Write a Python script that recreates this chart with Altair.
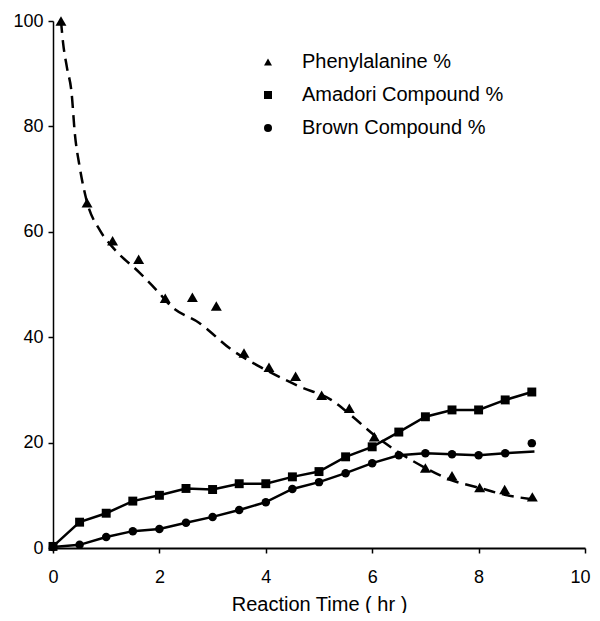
import altair as alt
import pandas as pd

FONT = "Liberation Sans"

series_names = ["Phenylalanine %", "Amadori Compound %", "Brown Compound %"]
series_shapes = ["triangle-up", "square", "circle"]
series_sizes = [120, 80, 72]

# Phenylalanine % (triangles)
phe_t = [0.15, 0.64, 1.12, 1.61, 2.11, 2.62, 3.07, 3.59, 4.06, 4.56, 5.05, 5.57, 6.04, 7.0, 7.5, 8.02, 8.49, 9.01]
phe_v = [100, 65.5, 58.3, 54.8, 47.4, 47.6, 45.9, 37.0, 34.3, 32.6, 29.0, 26.5, 21.1, 15.2, 13.7, 11.5, 11.1, 9.7]

# Phenylalanine fitted (dashed) curve
phe_fit_t = [0.15, 0.19, 0.26, 0.35, 0.41, 0.50, 0.63, 0.88, 1.12, 1.63, 1.94, 2.24, 2.75, 3.36, 4.00, 4.62,
             5.23, 5.60, 6.04, 6.49, 7.00, 7.48, 8.02, 8.49, 8.97]
phe_fit_v = [100, 95.8, 91.3, 86.3, 78.7, 72.4, 66.0, 60.3, 57.1, 52.2, 49.0, 45.7, 42.7, 37.6, 33.8, 30.7,
             28.1, 25.2, 21.4, 18.2, 15.2, 12.9, 11.4, 10.1, 9.3]

# Amadori Compound % (squares)
time_t = [0, 0.5, 1, 1.5, 2, 2.5, 3, 3.5, 4, 4.5, 5, 5.5, 6, 6.5, 7, 7.5, 8, 8.5, 9]
ama_v = [0.3, 4.9, 6.6, 8.9, 10.0, 11.3, 11.1, 12.2, 12.2, 13.5, 14.5, 17.3, 19.2, 22.0, 24.9, 26.2, 26.2, 28.1, 29.6]

# Brown Compound % (circles)
brn_v = [0.2, 0.6, 2.1, 3.2, 3.6, 4.8, 5.9, 7.2, 8.7, 11.2, 12.5, 14.2, 16.1, 17.6, 18.0, 17.8, 17.6, 18.0, 19.9]

# Brown fitted line (ends below the last point)
brn_line_t = [0, 0.5, 1, 1.5, 2, 2.5, 3, 3.5, 4, 4.5, 5, 5.5, 6, 6.5, 7, 7.5, 8, 8.5, 9.05]
brn_line_v = [0.2, 0.6, 2.1, 3.2, 3.6, 4.8, 5.9, 7.2, 8.7, 11.2, 12.5, 14.2, 16.1, 17.6, 18.0, 17.8, 17.6, 18.0, 18.3]

x_ticks = [0, 2, 4, 6, 8, 10]
y_ticks = [0, 20, 40, 60, 80, 100]

series_col = [series_names[0]] * len(phe_t) + [series_names[1]] * len(time_t) + [series_names[2]] * len(time_t)
pts = pd.DataFrame({
    "t": phe_t + time_t + time_t,
    "v": phe_v + ama_v + brn_v,
    "series": series_col,
})
fit_df = pd.DataFrame({"t": phe_fit_t, "v": phe_fit_v})
ama_df = pd.DataFrame({"t": time_t, "v": ama_v})
brn_df = pd.DataFrame({"t": brn_line_t, "v": brn_line_v})

x_scale = alt.Scale(domain=[0, 10], nice=False, zero=False)
y_scale = alt.Scale(domain=[0, 100], nice=False)

x_axis = alt.Axis(
    values=x_ticks, grid=False, domainColor="black", domainWidth=2,
    tickColor="black", tickSize=5, tickWidth=1.5,
    labelFont=FONT, labelFontSize=18, labelColor="black", labelPadding=15,
    labelFlush=True, labelFlushOffset=5,
    titleFont=FONT, titleFontSize=20, titleFontWeight="normal", titleColor="black",
    titleY=62, titleBaseline="alphabetic",
)
y_axis = alt.Axis(
    values=y_ticks, grid=False, domainColor="black", domainWidth=1.5,
    tickColor="black", tickSize=5, tickWidth=1.5,
    labelFont=FONT, labelFontSize=18, labelColor="black", labelPadding=5,
)

X = alt.X("t:Q", scale=x_scale, axis=x_axis, title="Reaction Time ( hr )")
Y = alt.Y("v:Q", scale=y_scale, axis=y_axis, title=None)

legend = alt.Legend(
    title=None, orient="none", legendX=205, legendY=31,
    labelFont=FONT, labelFontSize=20, labelColor="black", labelOffset=24,
    labelLimit=400,
    symbolFillColor="black", symbolStrokeColor="black", symbolSize=64,
    symbolOpacity=1, rowPadding=13, padding=0,
)
S = alt.Shape("series:N", scale=alt.Scale(domain=series_names, range=series_shapes), legend=legend)

fit = alt.Chart(fit_df).mark_line(
    color="black", strokeWidth=2.5, strokeDash=[12, 7], interpolate="monotone"
).encode(x=X, y=Y)

ama_line = alt.Chart(ama_df).mark_line(color="black", strokeWidth=2.5).encode(x=X, y=Y)
brn_line = alt.Chart(brn_df).mark_line(color="black", strokeWidth=2.5).encode(x=X, y=Y)

point_layers = []
for name, size in zip(series_names, series_sizes):
    point_layers.append(
        alt.Chart(pts).transform_filter(alt.datum.series == name)
        .mark_point(filled=True, color="black", opacity=1, size=size)
        .encode(x=X, y=Y, shape=S)
    )

chart = alt.layer(fit, ama_line, brn_line, *point_layers).properties(
    width=532, height=527,
    autosize=alt.AutoSizeParams(type="none"),
    padding={"left": 45, "top": 13, "right": 7, "bottom": 65},
).configure_view(strokeWidth=0)

chart.save("out.html", embed_options={"renderer": "svg", "actions": False})
